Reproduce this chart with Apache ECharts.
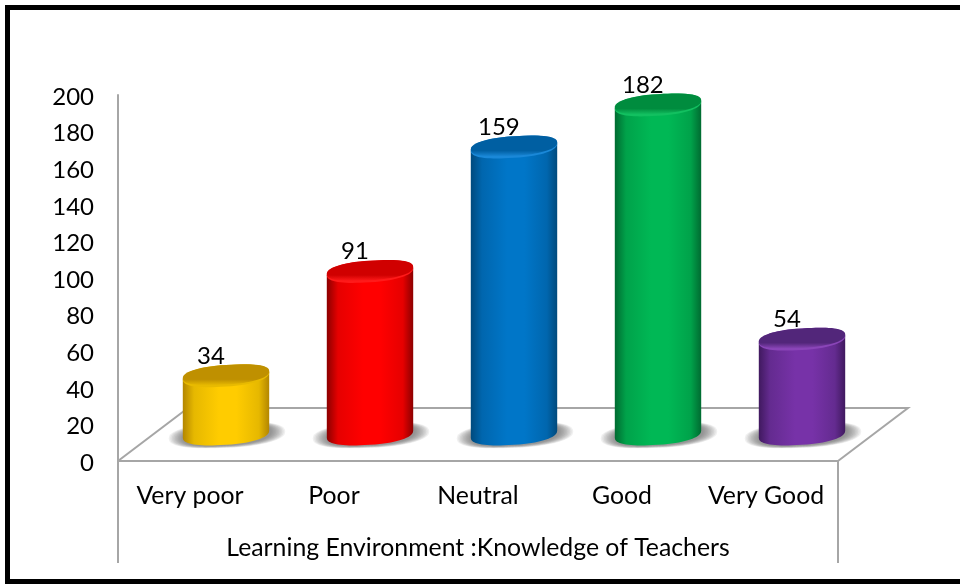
<!DOCTYPE html>
<html>
<head>
<meta charset="utf-8">
<style>
  html, body { margin: 0; padding: 0; background: #fff; }
  #chart { width: 960px; height: 585px; overflow: hidden; }
</style>
</head>
<body>
<div id="chart"></div>
<script src="https://cdn.jsdelivr.net/npm/echarts@6/dist/echarts.min.js"></script>
<script>
const categories = ['Very poor', 'Poor', 'Neutral', 'Good', 'Very Good']
const counts = [34, 91, 159, 182, 54]
const axisTitle = 'Learning Environment :Knowledge of Teachers'

// edge, mid, bright, top face, top rim
const shades = [
  ['#b38600', '#e6b800', '#ffcc00', '#bf9000', '#e8ba00'],
  ['#8c0000', '#e60000', '#ff0000', '#d00000', '#ff1a1a'],
  ['#004a7d', '#0066ae', '#0076c8', '#005fa2', '#1a88d8'],
  ['#006b31', '#00a24a', '#00b855', '#008c3e', '#12c060'],
  ['#40195f', '#642b90', '#7732a8', '#52267a', '#8a45b8']
]

const gray = '#a6a6a6'
const fontName = 'Lato, "Open Sans", sans-serif'

// sheared ellipse with slightly full shoulders, the left side sits lower than the right
function ringPoint(cx, cy, rx, ry, shear, t) {
  const co = Math.cos(t)
  const si = Math.sin(t)
  const px = Math.sign(co) * Math.pow(Math.abs(co), 0.85)
  const py = Math.sign(si) * Math.pow(Math.abs(si), 0.85)
  return [cx + rx * px, cy + ry * py - shear * co]
}

function ellipsePoints(cx, cy, rx, ry, shear) {
  const pts = []
  for (let k = 0; k < 72; k++) pts.push(ringPoint(cx, cy, rx, ry, shear, k / 72 * Math.PI * 2))
  return pts
}

function renderCylinder(params, api) {
  const i = api.value(0)
  const v = api.value(1)
  const band = api.size([1, 0])[0]
  const rx = band * 0.3
  const ry = 10.8
  const shear = 3.5
  const cx = api.coord([i, 0])[0] + band * 0.25
  const baseY = api.coord([i, 0])[1] - 27
  const topY = api.coord([i, v])[1] - 23
  const c = shades[i]

  // soft floor shadow from stacked translucent ellipses
  const shadow = []
  for (let k = 0; k < 10; k++) {
    shadow.push({
      type: 'polygon',
      shape: { points: ellipsePoints(cx + 1, baseY + 1, rx + 15 - k * 1.5, ry + 2 - k * 0.25, shear) },
      style: { fill: 'rgba(90, 90, 90, 0.09)' }
    })
  }

  const body = []
  body.push(ringPoint(cx, topY, rx, ry, shear, Math.PI))
  for (let k = 0; k <= 36; k++) body.push(ringPoint(cx, baseY, rx, ry, shear, Math.PI - k / 36 * Math.PI))
  body.push(ringPoint(cx, topY, rx, ry, shear, 0))

  return {
    type: 'group',
    children: shadow.concat([
      {
        type: 'polygon',
        shape: { points: body },
        style: {
          fill: new echarts.graphic.LinearGradient(0, 0, 1, 0, [
            { offset: 0, color: c[0] },
            { offset: 0.13, color: c[1] },
            { offset: 0.42, color: c[2] },
            { offset: 0.62, color: c[2] },
            { offset: 0.88, color: c[1] },
            { offset: 1, color: c[0] }
          ])
        }
      },
      {
        type: 'polygon',
        shape: { points: ellipsePoints(cx, topY, rx, ry, shear) },
        style: { fill: c[4] }
      },
      {
        type: 'polygon',
        shape: { points: ellipsePoints(cx, topY - 1, rx, ry - 1, shear) },
        style: {
          fill: new echarts.graphic.LinearGradient(0, 0, 0, 1, [
            { offset: 0, color: c[3] },
            { offset: 0.72, color: c[3] },
            { offset: 1, color: c[4] }
          ])
        }
      },
      {
        type: 'text',
        style: {
          text: String(v),
          x: cx - band * 0.105,
          y: topY - 20,
          fill: '#000',
          font: '24px ' + fontName,
          align: 'center',
          verticalAlign: 'middle'
        }
      }
    ])
  }
}

const chart = echarts.init(document.getElementById('chart'), null, { renderer: 'canvas' })
chart.setOption({
  animation: false,
  backgroundColor: '#fff',
  grid: { left: 118, right: 122, top: 95, bottom: 124 },
  xAxis: {
    type: 'category',
    data: categories,
    name: axisTitle,
    nameLocation: 'middle',
    nameGap: 75,
    nameTextStyle: { color: '#000', fontSize: 24.8, fontFamily: fontName },
    axisLine: { show: true, lineStyle: { color: gray, width: 2 } },
    axisTick: { show: false },
    axisLabel: { color: '#000', fontSize: 24.8, fontFamily: fontName, margin: 23, interval: 0 }
  },
  yAxis: {
    type: 'value',
    min: 0,
    max: 200,
    interval: 20,
    axisLine: { show: true, lineStyle: { color: gray, width: 2 } },
    axisTick: { show: false },
    splitLine: { show: false },
    axisLabel: { color: '#000', fontSize: 24, fontFamily: fontName, margin: 24, verticalAlign: 'top', lineHeight: 4 }
  },
  graphic: [
    // frame runs off the right side of the picture
    { type: 'rect', shape: { x: 7.5, y: 7.5, width: 1000, height: 574 }, style: { fill: 'none', stroke: '#000', lineWidth: 5 } },
    // chart floor and the axis table lines
    { type: 'polyline', shape: { points: [[118, 461], [188, 408], [908, 408], [838, 461]] }, style: { fill: 'none', stroke: gray, lineWidth: 2 } },
    { type: 'line', shape: { x1: 118, y1: 461, x2: 118, y2: 563 }, style: { stroke: gray, lineWidth: 2 } },
    { type: 'line', shape: { x1: 838, y1: 461, x2: 838, y2: 563 }, style: { stroke: gray, lineWidth: 2 } }
  ],
  series: [
    {
      type: 'custom',
      renderItem: renderCylinder,
      encode: { x: 0, y: 1 },
      data: categories.map((name, i) => [i, counts[i]]),
      clip: false
    }
  ]
})
</script>
</body>
</html>
